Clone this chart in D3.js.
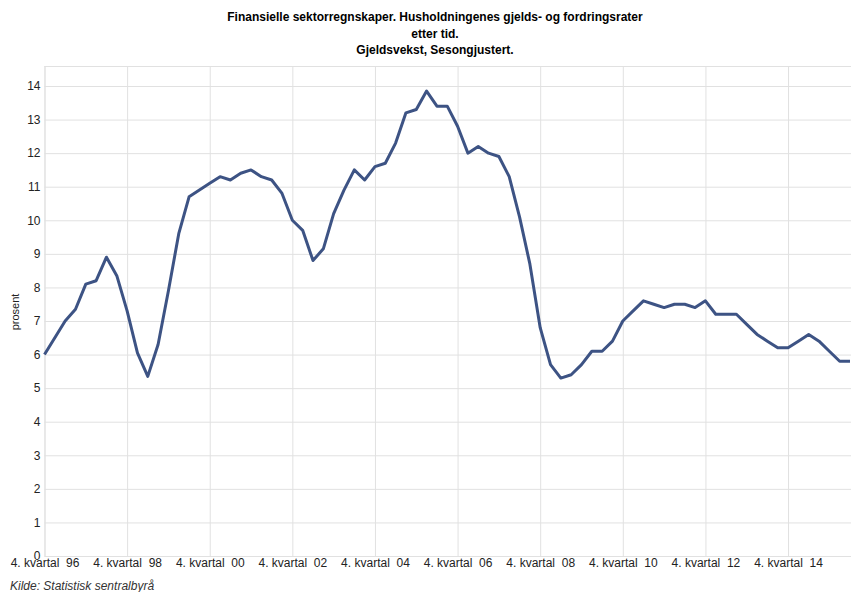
<!DOCTYPE html>
<html>
<head>
<meta charset="utf-8">
<script src="https://cdn.jsdelivr.net/npm/d3@7"></script>
<style>
  html, body { margin: 0; padding: 0; background: #fff; }
  svg { display: block; }
  .title { font-family: 'Liberation Sans Narrow', 'Arial Narrow', sans-serif; font-weight: bold; font-size: 12px; fill: #000; }
  .tick text { font-family: 'Liberation Sans', Arial, sans-serif; font-size: 12px; fill: #222; white-space: pre; }
  .note { font-family: 'Liberation Sans', Arial, sans-serif; font-size: 12px; font-style: italic; fill: #333; }
  .ylab { font-family: 'Liberation Sans', Arial, sans-serif; font-size: 11px; fill: #222; }
</style>
</head>
<body>
<svg id="chart" width="851" height="592"></svg>
<script>
// Household debt growth, seasonally adjusted, per quarter from 4th quarter 1996 to 2nd quarter 2016 (percent)
const debtGrowth = [
  6.0, 6.5, 7.0, 7.35, 8.1, 8.2, 8.9, 8.35, 7.3, 6.05,
  5.35, 6.3, 7.9, 9.6, 10.7, 10.9, 11.1, 11.3, 11.2, 11.4,
  11.5, 11.3, 11.2, 10.8, 10.0, 9.7, 8.8, 9.15, 10.2, 10.9,
  11.5, 11.2, 11.6, 11.7, 12.3, 13.2, 13.3, 13.85, 13.4, 13.4,
  12.8, 12.0, 12.2, 12.0, 11.9, 11.3, 10.1, 8.7, 6.8, 5.7,
  5.3, 5.4, 5.7, 6.1, 6.1, 6.4, 7.0, 7.3, 7.6, 7.5,
  7.4, 7.5, 7.5, 7.4, 7.6, 7.2, 7.2, 7.2, 6.9, 6.6,
  6.4, 6.2, 6.2, 6.4, 6.6, 6.4, 6.1, 5.8, 5.8
];

// Quarter keys: 1996K4, 1997K1, ... one per value
const firstYear = 1996, firstQuarter = 4;
const quarters = debtGrowth.map((_, i) => {
  const q = firstQuarter - 1 + i;
  return (firstYear + Math.floor(q / 4)) + "K" + (q % 4 + 1);
});

const tickQuarters = ["1996K4", "1998K4", "2000K4", "2002K4", "2004K4", "2006K4", "2008K4", "2010K4", "2012K4", "2014K4"];
const tickLabels = ["4. kvartal  96", "4. kvartal  98", "4. kvartal  00", "4. kvartal  02", "4. kvartal  04",
                    "4. kvartal  06", "4. kvartal  08", "4. kvartal  10", "4. kvartal  12", "4. kvartal  14"];
const yTicks = [0, 1, 2, 3, 4, 5, 6, 7, 8, 9, 10, 11, 12, 13, 14];

const titleLines = [
  "Finansielle sektorregnskaper. Husholdningenes gjelds- og fordringsrater",
  "etter tid.",
  "Gjeldsvekst, Sesongjustert."
];

const svg = d3.select("#chart");
const plotLeft = 44.5, plotRight = 850, plotTop = 66, plotBottom = 556, edge = 851;

const x = d3.scalePoint().domain(quarters).range([plotLeft, plotRight]);
const y = d3.scaleLinear().domain([0, 14]).range([plotBottom, 86]);

// Title
svg.append("g").selectAll("text").data(titleLines).join("text")
  .attr("class", "title")
  .attr("x", 435)
  .attr("y", (d, i) => 21 + i * 16.5)
  .attr("text-anchor", "middle")
  .text(d => d);

const gridColor = "#e1e1e1";

// Top border of plot area
svg.append("line")
  .attr("x1", plotLeft).attr("x2", edge)
  .attr("y1", plotTop + 0.5).attr("y2", plotTop + 0.5)
  .attr("stroke", gridColor);

// Horizontal grid and value labels
const yAxis = svg.append("g")
  .attr("transform", `translate(${plotLeft},0)`)
  .call(d3.axisLeft(y).tickValues(yTicks).tickFormat(d3.format("d")).tickSize(-(edge - plotLeft)).tickPadding(4));
yAxis.select(".domain").attr("stroke", gridColor).attr("d", `M0.5,${plotTop}V${plotBottom}`);
yAxis.selectAll(".tick line").attr("stroke", gridColor);

// Vertical grid and quarter labels
const xAxis = svg.append("g")
  .attr("transform", `translate(0,${plotBottom})`)
  .call(d3.axisBottom(x).tickValues(tickQuarters)
    .tickFormat(d => tickLabels[tickQuarters.indexOf(d)])
    .tickSize(-(plotBottom - plotTop)).tickPadding(2));
xAxis.select(".domain").attr("stroke", gridColor).attr("d", `M${plotLeft},0.5H${edge}`);
xAxis.selectAll(".tick line").attr("stroke", gridColor);

// Series line
const line = d3.line()
  .x((d, i) => x(quarters[i]))
  .y(d => y(d));

svg.append("path")
  .datum(debtGrowth)
  .attr("d", line)
  .attr("fill", "none")
  .attr("stroke", "#3d5384")
  .attr("stroke-width", 3)
  .attr("stroke-linejoin", "round");

// Axis title
svg.append("text")
  .attr("class", "ylab")
  .attr("transform", "translate(19,312) rotate(-90)")
  .attr("text-anchor", "middle")
  .text("prosent");

// Source
svg.append("text")
  .attr("class", "note")
  .attr("x", 10)
  .attr("y", 590)
  .text("Kilde: Statistisk sentralbyrå");
</script>
</body>
</html>
